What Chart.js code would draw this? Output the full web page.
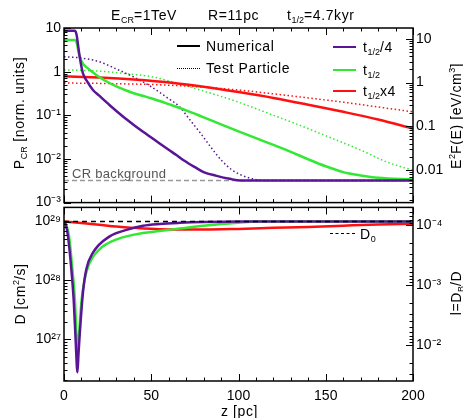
<!DOCTYPE html>
<html lang="en">
<head>
<meta charset="UTF-8" />
<title>CR pressure and diffusion coefficient</title>
<script src="https://cdn.jsdelivr.net/npm/chart.js"></script>
<style>
  body { margin: 0; background: #fff; font-family: 'Liberation Sans', Arial, sans-serif; }
  .wrap { position: relative; width: 463px; height: 418px; overflow: hidden; }
  canvas { position: absolute; left: 0; }
  #topChart { top: 0; }
  #bottomChart { top: 196px; }
  .txt { position: absolute; white-space: nowrap; font-size: 14px; letter-spacing: 0.6px; line-height: 1; color: #000; transform: translateY(-50%); }
  .rot { transform: translate(-50%, -50%) rotate(-90deg); }
  sub { font-size: 9px; vertical-align: -3px; line-height: 0; letter-spacing: 0; }
  sup { font-size: 9px; vertical-align: 6px; line-height: 0; letter-spacing: 0; }
  .key { position: absolute; height: 0; width: 23px; }
</style>
</head>
<body>
<div class="wrap">
  <canvas id="topChart" width="463" height="214"></canvas>
  <canvas id="bottomChart" width="463" height="222"></canvas>

  <div class="txt" style="left:111px; top:15px">E<sub>CR</sub>=1TeV</div>
  <div class="txt" style="left:208px; top:15px">R=11pc</div>
  <div class="txt" style="left:287px; top:15px">t<sub>1/2</sub>=4.7kyr</div>

  <div class="txt rot" style="left:19px; top:113px">P<sub>CR</sub> [norm. units]</div>
  <div class="txt rot" style="left:456px; top:116px">E<sup>2</sup>F(E) [eV/cm<sup>3</sup>]</div>
  <div class="txt rot" style="left:20px; top:294px">D [cm<sup>2</sup>/s]</div>
  <div class="txt rot" style="left:456px; top:293px">l=D<sub>B</sub>/D</div>
  <div class="txt" style="left:221px; top:411px">z [pc]</div>

  <div class="key" style="left:177px; top:45px; border-top:2px solid #000"></div>
  <div class="txt" style="left:206px; top:46px">Numerical</div>
  <div class="key" style="left:177px; top:68px; border-top:1.5px dotted #000"></div>
  <div class="txt" style="left:206px; top:68px">Test Particle</div>

  <div class="key" style="left:333px; top:46px; border-top:2.5px solid #5a1496"></div>
  <div class="txt" style="left:363px; top:47px">t<sub>1/2</sub>/4</div>
  <div class="key" style="left:333px; top:69px; border-top:2.5px solid #33e833"></div>
  <div class="txt" style="left:363px; top:70px">t<sub>1/2</sub></div>
  <div class="key" style="left:333px; top:90px; border-top:2.5px solid #ff1010"></div>
  <div class="txt" style="left:363px; top:91px">t<sub>1/2</sub>x4</div>

  <div class="txt" style="left:72px; top:173px; font-size:13px; letter-spacing:0.3px; color:#555">CR background</div>

  <div class="key" style="left:330px; top:233px; width:25px; border-top:1.5px dashed #000"></div>
  <div class="txt" style="left:360px; top:234px">D<sub>0</sub></div>
</div>

<script>
  // top panel: CR pressure vs distance (numerical)
  const zNumQ = [0, 6, 6.5, 7, 7.5, 8, 8.5, 9, 10, 10.9, 13, 16.6, 20, 26.2, 30, 35.8, 40, 45.3, 50, 54.8, 60, 64.4, 69, 75, 80, 87.5, 95, 101, 200];
  const pNumQ = [8.7, 8.7, 8.5, 7.6, 6.0, 4.2, 3.0, 2.2, 1.3, 0.9, 0.62, 0.38, 0.285, 0.17, 0.126, 0.081, 0.06, 0.042, 0.031, 0.0226, 0.0162, 0.0123, 0.0091, 0.0065, 0.005, 0.0041, 0.0035, 0.0032, 0.0032];
  const zNumH = [0, 6, 6.5, 7, 7.5, 8, 8.5, 9, 10, 11, 13, 16, 20, 25, 30, 35, 40, 45, 50, 60, 70, 80, 90, 100, 110, 120, 130, 140, 150, 160, 170, 180, 200];
  const pNumH = [5.3, 5.3, 5.2, 4.9, 4.2, 3.3, 2.6, 2.2, 1.75, 1.5, 1.25, 1.0, 0.76, 0.58, 0.46, 0.38, 0.32, 0.28, 0.245, 0.18, 0.13, 0.09, 0.062, 0.043, 0.03, 0.021, 0.0145, 0.0098, 0.0068, 0.005, 0.0042, 0.0037, 0.0034];
  const zNumX4 = [0, 20, 40, 63, 80, 100, 120, 140, 160, 180, 200];
  const pNumX4 = [0.78, 0.73, 0.66, 0.55, 0.45, 0.34, 0.25, 0.175, 0.12, 0.08, 0.05];

  // top panel: test particle
  const zTpQ = [0, 10, 20, 30, 40, 50, 60, 66, 72, 78, 84, 90, 96, 102, 108, 115, 200];
  const pTpQ = [2.2, 2.05, 1.7, 1.15, 0.75, 0.45, 0.24, 0.16, 0.08, 0.04, 0.019, 0.0095, 0.0057, 0.0042, 0.0035, 0.0032, 0.0032];
  const zTpH = [0, 20, 40, 50, 63, 80, 100, 120, 132, 150, 170, 185, 200];
  const pTpH = [1.1, 1.03, 0.86, 0.77, 0.57, 0.36, 0.2, 0.1, 0.066, 0.034, 0.016, 0.0085, 0.0055];
  const zTpX4 = [0, 30, 60, 80, 100, 120, 140, 160, 180, 200];
  const pTpX4 = [0.55, 0.53, 0.49, 0.44, 0.38, 0.31, 0.25, 0.2, 0.155, 0.12];

  const crBackground = 0.0032;

  // bottom panel: diffusion coefficient [cm^2/s]
  const zDQ = [0, 1, 2.3, 4.2, 5.6, 6.7, 7.7, 8.3, 9.0, 10.9, 12.8, 16.6, 26.2, 35.8, 45.3, 54.8, 66.3, 80, 100, 200];
  const dQ = [1e29, 8.9e28, 5.6e28, 1.55e28, 4.4e27, 9.3e26, 2.75e26, 5.6e26, 1.2e27, 6.4e27, 1.55e28, 2.95e28, 5.6e28, 7.2e28, 8.5e28, 9.1e28, 9.5e28, 9.8e28, 1e29, 1e29];
  const zDH = [0, 1, 2.9, 4.8, 6.3, 7.1, 7.7, 8.6, 10, 11.9, 14.7, 20.5, 28.1, 35.8, 45.3, 54.8, 66.3, 80, 100, 110, 200];
  const dH = [1e29, 9.1e28, 5.6e28, 1.55e28, 4.4e27, 1.2e27, 5.6e26, 1.2e27, 4.4e27, 1.07e28, 2.0e28, 3.4e28, 4.7e28, 5.6e28, 6.4e28, 6.9e28, 7.6e28, 8.5e28, 9.5e28, 1e29, 1e29];
  const zDX4 = [0, 10, 20, 30, 40, 55, 80, 100, 120, 140, 160, 180, 200];
  const dX4 = [1e29, 9.4e28, 8.8e28, 8.2e28, 7.8e28, 7.4e28, 7.3e28, 7.5e28, 7.8e28, 8.1e28, 8.5e28, 8.9e28, 9.2e28];
  const d0 = 1e29;

  const xTicks = [0, 50, 100, 150, 200];

  const PURPLE = '#5a1496', GREEN = '#33e833', RED = '#ff1010';

  Chart.defaults.font.family = "'Liberation Sans', Arial, sans-serif";
  Chart.defaults.font.size = 14;
  Chart.defaults.color = '#000';

  const supMap = { '-': '\u207B', '0': '\u2070', '1': '\u00B9', '2': '\u00B2', '3': '\u00B3', '4': '\u2074', '5': '\u2075', '6': '\u2076', '7': '\u2077', '8': '\u2078', '9': '\u2079' };
  function decade(v) {
    const e = Math.log10(v), k = Math.round(e);
    return Math.abs(e - k) < 1e-6 ? k : null;
  }
  function powLabel(v) {
    const k = decade(v);
    if (k === null) return '';
    return '10' + String(k).split('').map(c => supMap[c]).join('');
  }

  function pts(zs, vs) { return zs.map((z, i) => ({ x: z, y: vs[i] })); }
  function line(zs, vs, color, opts) {
    return Object.assign({
      data: pts(zs, vs), borderColor: color, borderWidth: 2.5, pointRadius: 0,
      cubicInterpolationMode: 'monotone', yAxisID: 'yL', fill: false
    }, opts || {});
  }
  const dotted = { borderWidth: 1.5, borderDash: [1.5, 2.5] };

  function logTicks(ctx, s, edge, dir) {
    const lo = Math.floor(Math.log10(s.min)), hi = Math.ceil(Math.log10(s.max));
    for (let k = lo; k <= hi; k++) {
      for (let m = 1; m <= 9; m++) {
        const v = m * Math.pow(10, k);
        if (v < s.min || v > s.max) continue;
        const py = Math.round(s.getPixelForValue(v)) + 0.5;
        const len = m === 1 ? 7 : 3.5;
        ctx.moveTo(edge, py);
        ctx.lineTo(edge + dir * len, py);
      }
    }
  }

  // IDL style box with inward ticks
  const frame = {
    id: 'frame',
    afterDatasetsDraw(chart) {
      const { ctx, chartArea: a, scales } = chart;
      ctx.save();
      ctx.strokeStyle = '#000';
      ctx.lineWidth = 1;
      ctx.beginPath();
      for (let v = 0; v <= 200; v += 10) {
        const px = Math.round(scales.x.getPixelForValue(v)) + 0.5;
        const len = v % 50 === 0 ? 7 : 3.5;
        ctx.moveTo(px, a.bottom); ctx.lineTo(px, a.bottom - len);
        ctx.moveTo(px, a.top); ctx.lineTo(px, a.top + len);
      }
      logTicks(ctx, scales.yL, a.left, 1);
      logTicks(ctx, scales.yR, a.right, -1);
      ctx.stroke();
      ctx.lineWidth = 1.5;
      ctx.strokeRect(a.left, a.top, a.right - a.left, a.bottom - a.top);
      ctx.restore();
    }
  };

  function yAxis(position, min, max, cb, extra) {
    return Object.assign({
      type: 'logarithmic', position, min, max,
      grid: { display: false, drawTicks: false },
      border: { display: false },
      ticks: { autoSkip: false, padding: 3, callback: cb },
      afterFit: s => { s.width = position === 'left' ? 64 : 50; }
    }, extra || {});
  }

  new Chart(document.getElementById('topChart'), {
    type: 'line',
    data: {
      datasets: [
        line(zNumQ, pNumQ, PURPLE),
        line(zNumH, pNumH, GREEN),
        line(zNumX4, pNumX4, RED),
        line(zTpQ, pTpQ, PURPLE, dotted),
        line(zTpH, pTpH, GREEN, dotted),
        line(zTpX4, pTpX4, RED, dotted),
        line([0, 200], [crBackground, crBackground], '#999', { borderWidth: 1.5, borderDash: [5, 3] })
      ]
    },
    options: {
      responsive: false,
      animation: false,
      devicePixelRatio: 1,
      layout: { padding: { top: 28, bottom: 10, left: 0, right: 0 } },
      plugins: { legend: { display: false }, tooltip: { enabled: false } },
      scales: {
        x: { type: 'linear', min: 0, max: 200, display: false },
        yL: yAxis('left', 1e-3, 10, v => {
          const k = decade(v);
          if (k === null) return '';
          return k === 1 ? '10' : k === 0 ? '1' : powLabel(v);
        }),
        yR: yAxis('right', Math.pow(10, -2.75), Math.pow(10, 1.25), v => {
          const k = decade(v);
          if (k === null) return '';
          return ({ 1: '10', 0: '1', '-1': '0.1', '-2': '0.01' })[k] || '';
        })
      }
    },
    plugins: [frame]
  });

  new Chart(document.getElementById('bottomChart'), {
    type: 'line',
    data: {
      datasets: [
        line([0, 200], [d0, d0], '#000', { borderWidth: 1.5, borderDash: [5, 4] }),
        line(zDQ, dQ, PURPLE),
        line(zDH, dH, GREEN),
        line(zDX4, dX4, RED)
      ]
    },
    options: {
      responsive: false,
      animation: false,
      devicePixelRatio: 1,
      layout: { padding: { top: 8, bottom: 0, left: 0, right: 0 } },
      plugins: { legend: { display: false }, tooltip: { enabled: false } },
      scales: {
        x: {
          type: 'linear', min: 0, max: 200,
          grid: { display: false, drawTicks: false },
          border: { display: false },
          ticks: {
            padding: 7, autoSkip: false, stepSize: 50,
            callback: v => xTicks.includes(v) ? String(v) : ''
          },
          afterFit: s => { s.height = 37; }
        },
        yL: yAxis('left', Math.pow(10, 26.29), Math.pow(10, 29.24), powLabel),
        yR: yAxis('right', Math.pow(10, -4.3), Math.pow(10, -1.4), powLabel, { reverse: true })
      }
    },
    plugins: [frame]
  });
</script>
</body>
</html>
